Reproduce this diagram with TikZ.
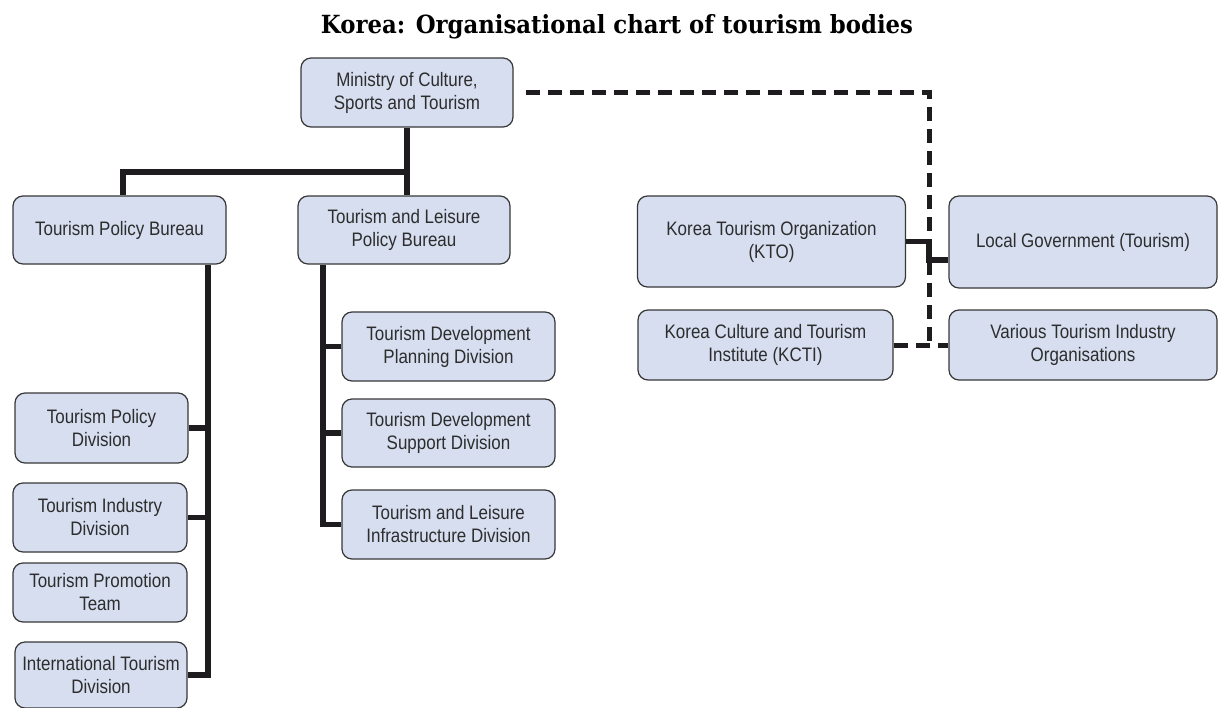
\documentclass[tikz,border=0pt]{standalone}
\usepackage{fontspec}
\setmainfont{Liberation Sans}[FakeStretch=0.87]
\newfontfamily\titlefont{DejaVu Serif}
\usepackage{graphicx}
\definecolor{boxfill}{RGB}{214,222,240}
\definecolor{boxline}{RGB}{55,55,55}
\definecolor{txt}{RGB}{45,45,45}
\definecolor{conn}{RGB}{30,28,30}
\begin{document}
\begin{tikzpicture}[x=1pt,y=-1pt,
  box/.style={draw=boxline, line width=1.2pt, fill=boxfill, rounded corners=10pt,
    inner sep=0pt, align=center, text=txt,
    font=\fontsize{19.5}{23}\selectfont},
  solidline/.style={draw=conn, line width=5.5pt, line join=miter},
  dashline/.style={draw=conn, line width=5pt, dash pattern=on 14pt off 8pt}]
\useasboundingbox (0,0) rectangle (1218,707);
% title
\node[anchor=base, inner sep=0pt] (title) at (617,33)
  {\resizebox{592pt}{\height}{\titlefont\bfseries\fontsize{25}{28}\selectfont Korea: Organisational chart of tourism bodies}};
% boxes
\node[box, minimum width=212pt, minimum height=69pt] (min) at (407,92.5) {Ministry of Culture,\\Sports and Tourism};
\node[box, minimum width=213pt, minimum height=68pt] (tpb) at (119.5,230) {Tourism Policy Bureau};
\node[box, minimum width=212pt, minimum height=68pt] (tlpb) at (404,230) {Tourism and Leisure\\Policy Bureau};
\node[box, minimum width=268pt, minimum height=91pt] (kto) at (771.5,241.5) {Korea Tourism Organization\\(KTO)};
\node[box, minimum width=268pt, minimum height=92pt] (lg) at (1083,242) {Local Government (Tourism)};
\node[box, minimum width=255pt, minimum height=70pt] (kcti) at (765.5,345) {Korea Culture and Tourism\\Institute (KCTI)};
\node[box, minimum width=268pt, minimum height=70pt] (various) at (1083,345) {Various Tourism Industry\\Organisations};
% left column
\node[box, minimum width=173pt, minimum height=70pt] (tpd) at (101.5,428) {Tourism Policy\\Division};
\node[box, minimum width=174pt, minimum height=69pt] (tid) at (100,517.5) {Tourism Industry\\Division};
\node[box, minimum width=174pt, minimum height=59pt] (tpt) at (100,592.5) {Tourism Promotion\\Team};
\node[box, minimum width=172pt, minimum height=66pt] (itd) at (101,675) {International Tourism\\Division};
% middle column
\node[box, minimum width=213pt, minimum height=69pt] (tdpd) at (448.5,346.5) {Tourism Development\\Planning Division};
\node[box, minimum width=213pt, minimum height=68pt] (tdsd) at (448.5,433) {Tourism Development\\Support Division};
\node[box, minimum width=213pt, minimum height=69pt] (tlid) at (448.5,524.5) {Tourism and Leisure\\Infrastructure Division};
% connectors: ministry to bureaus
\coordinate (hb) at (0,172);
\draw[solidline] (min.south) -- (min.south |- tlpb.north);
\draw[solidline] (min.south |- hb) -| ([xshift=3.5pt]tpb.north);
% left tree
\coordinate (lt) at (208,0);
\draw[solidline] (lt |- tpb.south) -- (lt |- itd.east) -- (itd.east);
\draw[solidline] (tpd.east) -- (lt |- tpd.east);
\draw[solidline] (tid.east) -- (lt |- tid.east);
% middle tree
\coordinate (mt) at (323,0);
\draw[solidline] (mt |- tlpb.south) |- (tlid.west);
\draw[solidline] (tdpd.west) -- (mt |- tdpd.west);
\draw[solidline] (tdsd.west) -- (mt |- tdsd.west);
% right side
\coordinate (rv) at (929,0);
\coordinate (d0) at ([xshift=12pt]min.east);
\draw[dashline] (d0) -- (rv |- d0) -- (rv |- kcti.east);
\draw[dashline] (kcti.east) -- (various.west);
\draw[solidline] (kto.east) -- (rv |- kto.east) |- ([yshift=-18pt]lg.west);
\end{tikzpicture}
\end{document}
